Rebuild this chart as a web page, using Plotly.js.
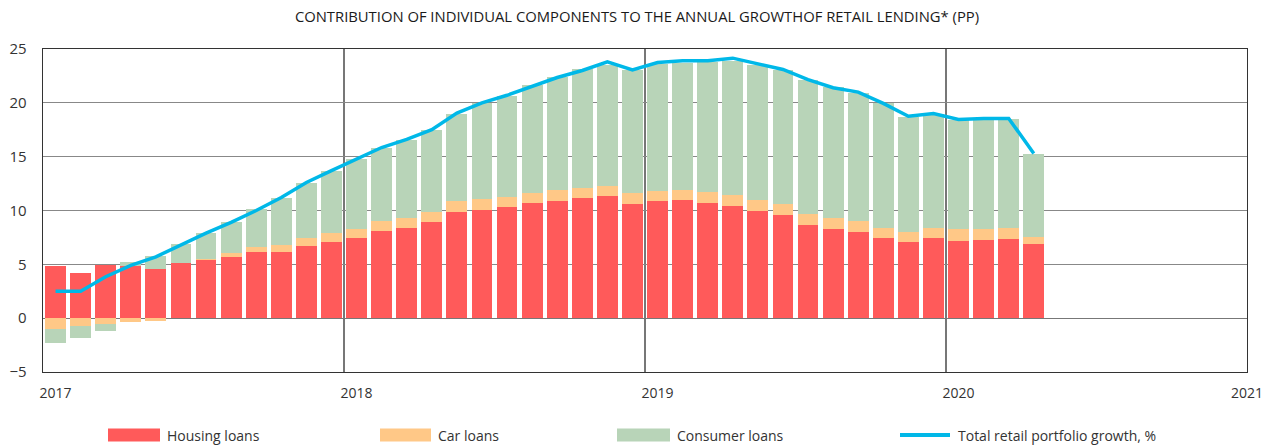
<!DOCTYPE html>
<html>
<head>
<meta charset="utf-8">
<script src="https://cdn.plot.ly/plotly-3.0.1.min.js"></script>
<style>html,body{margin:0;padding:0;background:#fff;}#chart{width:1274px;height:448px;}</style>
</head>
<body>
<div id="chart"></div>
<script>
// Months Jan 2017 .. Apr 2020
const months = [
  '2017-01','2017-02','2017-03','2017-04','2017-05','2017-06','2017-07','2017-08','2017-09','2017-10','2017-11','2017-12',
  '2018-01','2018-02','2018-03','2018-04','2018-05','2018-06','2018-07','2018-08','2018-09','2018-10','2018-11','2018-12',
  '2019-01','2019-02','2019-03','2019-04','2019-05','2019-06','2019-07','2019-08','2019-09','2019-10','2019-11','2019-12',
  '2020-01','2020-02','2020-03','2020-04'
];
const housingLoans = [
  4.80, 4.20, 4.90, 4.86, 4.58, 5.08, 5.39, 5.70, 6.10, 6.16, 6.70, 7.06,
  7.43, 8.08, 8.39, 8.92, 9.85, 10.09, 10.37, 10.71, 10.90, 11.15, 11.36, 10.65,
  10.90, 10.96, 10.74, 10.43, 9.97, 9.57, 8.64, 8.30, 7.99, 7.43, 7.06, 7.43,
  7.21, 7.28, 7.37, 6.87
];
const carLoans = [
  -1.05, -0.75, -0.53, -0.40, -0.25, 0.03, 0.15, 0.34, 0.53, 0.62, 0.73, 0.83,
  0.87, 0.90, 0.96, 0.93, 0.99, 0.96, 0.93, 0.93, 0.96, 0.95, 0.96, 0.93,
  0.93, 0.93, 0.99, 1.03, 1.02, 1.02, 1.08, 1.05, 1.08, 0.99, 0.99, 0.99,
  1.03, 1.02, 1.05, 0.68
];
const consumerLoans = [
  -1.30, -1.08, -0.65, 0.37, 1.24, 1.76, 2.39, 2.91, 3.49, 4.40, 5.10, 5.76,
  6.47, 6.84, 7.24, 7.67, 8.16, 8.89, 9.35, 10.00, 10.54, 11.00, 11.24, 11.45,
  11.77, 11.81, 12.07, 12.44, 12.54, 12.44, 12.38, 12.14, 11.86, 11.52, 10.65, 10.53,
  10.21, 10.20, 10.08, 7.74
];
const totalGrowth = [
  2.50, 2.50, 3.85, 4.90, 5.70, 6.80, 7.90, 8.90, 10.00, 11.20, 12.60, 13.70,
  14.80, 15.85, 16.60, 17.50, 19.05, 20.00, 20.70, 21.55, 22.35, 23.00, 23.80, 23.05,
  23.75, 23.90, 23.90, 24.15, 23.65, 23.10, 22.15, 21.40, 21.00, 19.95, 18.75, 19.00,
  18.45, 18.55, 18.55, 15.30
];
const yearLabels = ['2017','2018','2019','2020','2021'];
const seriesNames = ['Housing loans','Car loans','Consumer loans','Total retail portfolio growth, %'];
const titleText = 'CONTRIBUTION OF INDIVIDUAL COMPONENTS TO THE ANNUAL GROWTHOF RETAIL LENDING* (PP)';

const colors = {housing:'#FF5A5A', car:'#FFC887', consumer:'#B8D4B8', line:'#00B8E8'};
const FONT = 'Open Sans, Liberation Sans, sans-serif';

// x position: month index, bar at the middle of its month
const xPos = months.map((m, i) => i + 0.5);

const barCommon = {type:'bar', x:xPos, width:0.83, hoverinfo:'y+name', showlegend:false};
const traces = [
  Object.assign({}, barCommon, {name:seriesNames[0], y:housingLoans, marker:{color:colors.housing, line:{width:0}}}),
  Object.assign({}, barCommon, {name:seriesNames[1], y:carLoans, marker:{color:colors.car, line:{width:0}}}),
  Object.assign({}, barCommon, {name:seriesNames[2], y:consumerLoans, marker:{color:colors.consumer, line:{width:0}}}),
  {type:'scatter', mode:'lines', name:seriesNames[3], x:xPos, y:totalGrowth,
   line:{color:colors.line, width:3.5}, showlegend:false}
];

// Year ticks: labels sit just right of the year boundaries; 2021 at the right edge
const nYears = yearLabels.length;
const labelVals = yearLabels.map((y, i) => i < nYears - 1 ? i * 12 + 0.5 : i * 12);
const gridVals = yearLabels.map((y, i) => i * 12);

// Custom legend (swatches + real text)
const legendItems = [
  {x0:108, x1:160, tx:165, color:colors.housing, kind:'rect', text:seriesNames[0]},
  {x0:380, x1:431, tx:436, color:colors.car, kind:'rect', text:seriesNames[1]},
  {x0:617, x1:670, tx:675, color:colors.consumer, kind:'rect', text:seriesNames[2]},
  {x0:900, x1:950, tx:956, color:colors.line, kind:'line', text:seriesNames[3]}
];
const W = 1274, H = 448;
const legY = 435;
const shapes = [];
const annotations = [];
legendItems.forEach(it => {
  if (it.kind === 'rect') {
    shapes.push({type:'rect', xref:'paper', yref:'paper', x0:it.x0/W, x1:it.x1/W,
      y0:(H-(legY+6.5))/H, y1:(H-(legY-6.5))/H, fillcolor:it.color, line:{width:0}, layer:'above'});
  } else {
    shapes.push({type:'line', xref:'paper', yref:'paper', x0:it.x0/W, x1:it.x1/W,
      y0:(H-legY)/H, y1:(H-legY)/H, line:{color:it.color, width:4}, layer:'above'});
  }
  annotations.push({xref:'paper', yref:'paper', x:it.tx/W, y:(H-legY)/H, xanchor:'left', yanchor:'middle',
    text:it.text, showarrow:false, font:{family:FONT, size:14, color:'#333'}});
});

// Translate pixel-positioned paper coords (plot area spans l..W-r)
const margin = {l:43, r:27, t:49, b:76};
const pw = W - margin.l - margin.r, ph = H - margin.t - margin.b;
shapes.forEach(s => {
  s.x0 = (s.x0*W - margin.l)/pw; s.x1 = (s.x1*W - margin.l)/pw;
  s.y0 = (s.y0*H - margin.b)/ph; s.y1 = (s.y1*H - margin.b)/ph;
});
annotations.forEach(a => {
  a.x = (a.x*W - margin.l)/pw; a.y = (a.y*H - margin.b)/ph;
});

const layout = {
  width:W, height:H,
  margin:margin,
  paper_bgcolor:'#fff', plot_bgcolor:'#fff',
  barmode:'relative', bargap:0,
  title:{text:titleText, x:0.5, xanchor:'center', y:1-17/H, yanchor:'middle',
    font:{family:FONT, size:14.8, color:'#1a1a1a'}},
  xaxis:{range:[0,48], tickmode:'array', tickvals:labelVals, ticktext:yearLabels,
    showgrid:false, zeroline:false, ticks:'', ticklabelstandoff:8,
    tickfont:{family:FONT, size:14, color:'#333'},
    showline:true, mirror:true, linecolor:'#333', linewidth:1.3,
    minor:{tickmode:'array', tickvals:gridVals, showgrid:true, gridcolor:'#777', gridwidth:1.2, ticks:''},
    fixedrange:true},
  yaxis:{range:[-5,25], tickmode:'array', tickvals:[-5,0,5,10,15,20,25],
    showgrid:true, gridcolor:'#888', gridwidth:1.2, zeroline:true, zerolinecolor:'#777', zerolinewidth:1.2,
    ticks:'', ticklabelstandoff:12, tickfont:{family:FONT, size:15, color:'#333'},
    showline:true, mirror:true, linecolor:'#333', linewidth:1.3, fixedrange:true},
  shapes:shapes,
  annotations:annotations,
  showlegend:false
};

Plotly.newPlot('chart', traces, layout, {displayModeBar:false, staticPlot:true});
</script>
</body>
</html>
